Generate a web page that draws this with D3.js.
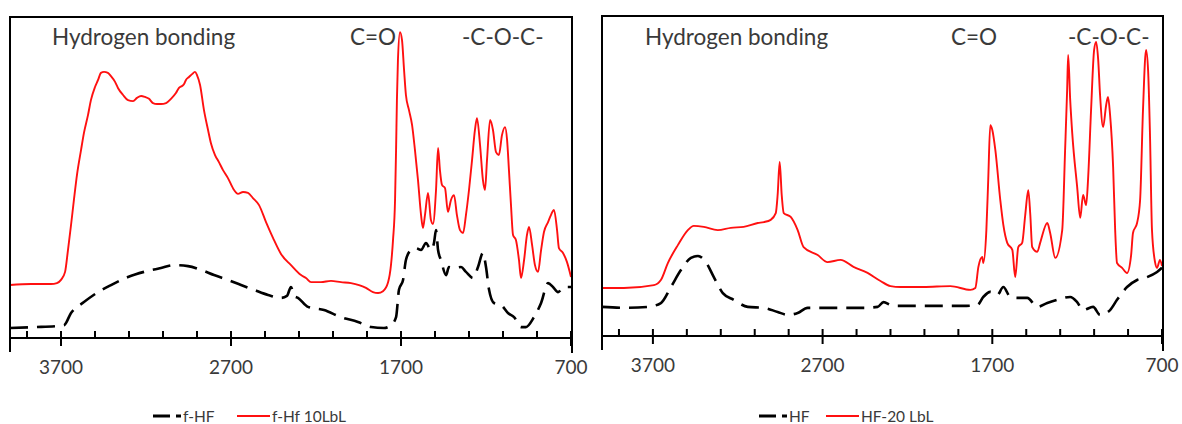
<!DOCTYPE html>
<html>
<head>
<meta charset="utf-8">
<script src="https://cdn.jsdelivr.net/npm/d3@7/dist/d3.min.js"></script>
<style>
  html, body { margin: 0; padding: 0; background: #fff; }
  svg { display: block; }
  text { font-family: Lato, "Open Sans", sans-serif; fill: #3a3a3a; }
</style>
</head>
<body>
<svg id="chart" width="1182" height="424"></svg>
<script>
// FTIR spectra: wavenumber (cm-1) and absorbance (a.u.)

// Panel 1 — f-HF membrane (dashed)
const fhfWn = [4000,3859,3729,3682,3641,3565,3482,3406,3306,3212,3112,3035,2953,2876,2800,2718,2641,2565,2482,2406,2371,2347,2329,2306,2247,2153,2053,1953,1876,1800,1759,1729,1712,1688,1671,1641,1612,1582,1553,1524,1506,1494,1482,1465,1435,1418,1388,1347,1318,1276,1247,1218,1200,1182,1153,1112,1071,1035,994,965,918,876,835,806,776,741,700];
const fhfAbs = [0.031,0.034,0.037,0.040,0.078,0.112,0.143,0.165,0.190,0.206,0.218,0.227,0.224,0.212,0.196,0.181,0.165,0.150,0.134,0.125,0.131,0.159,0.131,0.125,0.097,0.087,0.065,0.050,0.034,0.031,0.040,0.065,0.150,0.181,0.243,0.274,0.280,0.274,0.296,0.274,0.296,0.336,0.274,0.243,0.196,0.221,0.218,0.221,0.206,0.187,0.221,0.265,0.221,0.150,0.109,0.103,0.078,0.065,0.034,0.034,0.065,0.109,0.171,0.159,0.143,0.159,0.159];

// Panel 1 — f-Hf 10LbL coated membrane
const fhf10Wn = [4000,3876,3759,3724,3700,3676,3659,3641,3624,3606,3582,3565,3541,3524,3500,3482,3465,3447,3424,3406,3382,3365,3335,3306,3276,3253,3229,3206,3182,3159,3135,3112,3082,3053,3024,3006,2988,2976,2965,2947,2929,2912,2900,2882,2859,2835,2818,2794,2771,2747,2718,2682,2659,2629,2600,2571,2535,2494,2453,2406,2347,2288,2259,2229,2171,2112,2053,1994,1947,1906,1865,1835,1806,1776,1759,1747,1735,1729,1724,1718,1706,1694,1682,1671,1653,1635,1618,1600,1582,1571,1559,1541,1524,1512,1494,1482,1471,1459,1441,1424,1406,1388,1371,1353,1335,1318,1300,1282,1265,1253,1235,1218,1206,1194,1176,1159,1141,1124,1106,1088,1076,1065,1053,1041,1024,1006,994,976,959,947,929,912,894,876,859,835,818,800,782,771,747,724,700];
const fhf10Abs = [0.165,0.168,0.168,0.171,0.181,0.206,0.274,0.352,0.430,0.508,0.586,0.639,0.695,0.741,0.782,0.804,0.826,0.829,0.826,0.816,0.798,0.779,0.757,0.741,0.738,0.748,0.754,0.751,0.745,0.732,0.729,0.729,0.732,0.745,0.763,0.779,0.785,0.791,0.804,0.813,0.822,0.829,0.819,0.788,0.710,0.648,0.607,0.570,0.548,0.523,0.498,0.461,0.449,0.455,0.452,0.436,0.414,0.361,0.312,0.262,0.227,0.196,0.187,0.174,0.174,0.178,0.174,0.171,0.165,0.156,0.143,0.140,0.146,0.174,0.227,0.305,0.430,0.586,0.741,0.866,0.953,0.928,0.835,0.757,0.710,0.664,0.586,0.492,0.383,0.343,0.383,0.452,0.368,0.355,0.461,0.592,0.523,0.477,0.467,0.393,0.430,0.445,0.383,0.336,0.327,0.383,0.461,0.555,0.648,0.685,0.601,0.492,0.461,0.555,0.679,0.648,0.579,0.570,0.632,0.657,0.617,0.523,0.414,0.321,0.305,0.243,0.187,0.243,0.321,0.346,0.290,0.227,0.206,0.274,0.330,0.361,0.383,0.399,0.336,0.280,0.265,0.237,0.190];

// Panel 2 — HF membrane (dashed)
const hfWn = [4000,3871,3729,3653,3594,3535,3476,3435,3388,3341,3288,3224,3141,3047,2965,2906,2847,2788,2694,2576,2459,2376,2341,2300,2259,2065,1871,1788,1753,1712,1671,1635,1594,1553,1494,1435,1376,1318,1241,1200,1165,1106,1065,1006,965,906,847,788,729,700];
const hfAbs = [0.091,0.088,0.091,0.103,0.153,0.206,0.244,0.250,0.231,0.184,0.134,0.113,0.091,0.088,0.075,0.066,0.072,0.088,0.088,0.088,0.088,0.091,0.106,0.097,0.094,0.094,0.094,0.097,0.122,0.138,0.128,0.153,0.122,0.119,0.119,0.091,0.103,0.113,0.122,0.106,0.081,0.091,0.066,0.081,0.113,0.153,0.175,0.184,0.200,0.213];

// Panel 2 — HF-20 LbL coated membrane
const hf20Wn = [4000,3871,3694,3653,3612,3553,3494,3459,3400,3318,3241,3165,3082,3047,3006,2976,2965,2953,2941,2929,2888,2847,2812,2729,2671,2594,2518,2435,2359,2300,2241,2106,1947,1829,1800,1782,1759,1753,1735,1724,1712,1700,1682,1653,1635,1612,1582,1565,1547,1524,1506,1488,1476,1465,1435,1418,1376,1359,1329,1288,1271,1259,1253,1241,1229,1200,1182,1165,1147,1135,1118,1100,1088,1076,1065,1047,1029,1018,1006,988,976,965,935,906,882,871,847,829,812,794,782,771,759,741,729,712,700];
const hf20Abs = [0.150,0.150,0.159,0.175,0.228,0.284,0.331,0.344,0.341,0.331,0.338,0.341,0.353,0.356,0.363,0.384,0.441,0.544,0.441,0.384,0.372,0.331,0.278,0.253,0.231,0.238,0.216,0.197,0.172,0.156,0.153,0.153,0.156,0.144,0.150,0.216,0.247,0.228,0.331,0.488,0.659,0.644,0.581,0.425,0.347,0.291,0.269,0.184,0.278,0.291,0.378,0.456,0.378,0.278,0.263,0.291,0.353,0.322,0.244,0.331,0.581,0.769,0.878,0.738,0.634,0.466,0.369,0.441,0.409,0.497,0.706,0.894,0.919,0.863,0.753,0.653,0.722,0.747,0.691,0.528,0.331,0.228,0.213,0.197,0.253,0.322,0.353,0.425,0.706,0.894,0.831,0.634,0.331,0.231,0.213,0.238,0.219];

// Axis ticks and labels
const tickValues = [3900,3700,3500,3300,3100,2900,2700,2500,2300,2100,1900,1700,1500,1300,1100,900,700];
const tickLabels = [3700, 2700, 1700, 700];

// Band annotations
const bandNames = ["Hydrogen bonding", "C=O", "-C-O-C-"];

const zip = (xs, ys) => xs.map((x, i) => [x, ys[i]]);

const panels = [
  {
    left: 10, right: 572, top: 17, axisY: 338,
    series: [
      { name: "f-HF", data: zip(fhfWn, fhfAbs), dashed: true },
      { name: "f-Hf 10LbL", data: zip(fhf10Wn, fhf10Abs), dashed: false }
    ],
    bands: [52, 350, 462],
    legendX: 153, legendRed: 237
  },
  {
    left: 602, right: 1163, top: 16, axisY: 336,
    series: [
      { name: "HF", data: zip(hfWn, hfAbs), dashed: true },
      { name: "HF-20 LbL", data: zip(hf20Wn, hf20Abs), dashed: false }
    ],
    bands: [645, 951, 1068],
    legendX: 759, legendRed: 826
  }
];

const svg = d3.select("#chart");

panels.forEach(p => {
  const g = svg.append("g");
  const x = d3.scaleLinear().domain([4000, 700]).range([p.left, p.right - 1]);
  const y = d3.scaleLinear().domain([0, 1]).range([p.axisY, p.top]);

  const line = d3.line().x(d => x(d[0])).y(d => y(d[1])).curve(d3.curveMonotoneX);

  // spectra
  p.series.forEach(s => {
    g.append("path")
      .datum(s.data)
      .attr("fill", "none")
      .attr("stroke", s.dashed ? "#000" : "#ff1010")
      .attr("stroke-width", s.dashed ? 2.6 : 1.9)
      .attr("stroke-dasharray", s.dashed ? "18,9" : null)
      .attr("stroke-linejoin", "round")
      .attr("d", line);
  });

  // frame: left, top, right
  g.append("path")
    .attr("fill", "none")
    .attr("stroke", "#000")
    .attr("stroke-width", 2)
    .attr("d", `M${p.left},${p.axisY + 14}V${p.top}H${p.right}V${p.axisY + 15}`);

  // x axis baseline
  g.append("rect")
    .attr("x", p.left).attr("y", p.axisY - 1)
    .attr("width", p.right - p.left).attr("height", 2)
    .attr("fill", "#000");

  // tick marks: short every 200 cm-1, crossing the axis at labelled values
  g.selectAll(".tickmark")
    .data(tickValues)
    .join("rect")
    .attr("class", "tickmark")
    .attr("x", d => x(d) - 1)
    .attr("y", p.axisY - 7)
    .attr("width", 2)
    .attr("height", d => tickLabels.includes(d) ? 15 : 7)
    .attr("fill", "#000");

  g.selectAll(".ticklabel")
    .data(tickLabels)
    .join("text")
    .attr("class", "ticklabel")
    .attr("x", d => x(d))
    .attr("y", p.axisY + 36)
    .attr("text-anchor", "middle")
    .style("font-size", "19px")
    .text(d => d);

  // band annotations
  g.selectAll(".band")
    .data(bandNames)
    .join("text")
    .attr("class", "band")
    .attr("x", (d, i) => p.bands[i])
    .attr("y", 45)
    .style("font-size", "22.5px")
    .text(d => d);

  // legend
  const ly = 416;
  const lg = g.append("g");
  lg.append("line")
    .attr("x1", p.legendX).attr("x2", p.legendX + 28)
    .attr("y1", ly).attr("y2", ly)
    .attr("stroke", "#000").attr("stroke-width", 2.8)
    .attr("stroke-dasharray", "17,6");
  lg.append("text")
    .attr("x", p.legendX + 30).attr("y", ly + 5.5)
    .style("font-size", "15.5px")
    .text(p.series[0].name);
  lg.append("line")
    .attr("x1", p.legendRed).attr("x2", p.legendRed + 33)
    .attr("y1", ly).attr("y2", ly)
    .attr("stroke", "#ff1010").attr("stroke-width", 2.2);
  lg.append("text")
    .attr("x", p.legendRed + 35).attr("y", ly + 5.5)
    .style("font-size", "15.5px")
    .text(p.series[1].name);
});
</script>
</body>
</html>
